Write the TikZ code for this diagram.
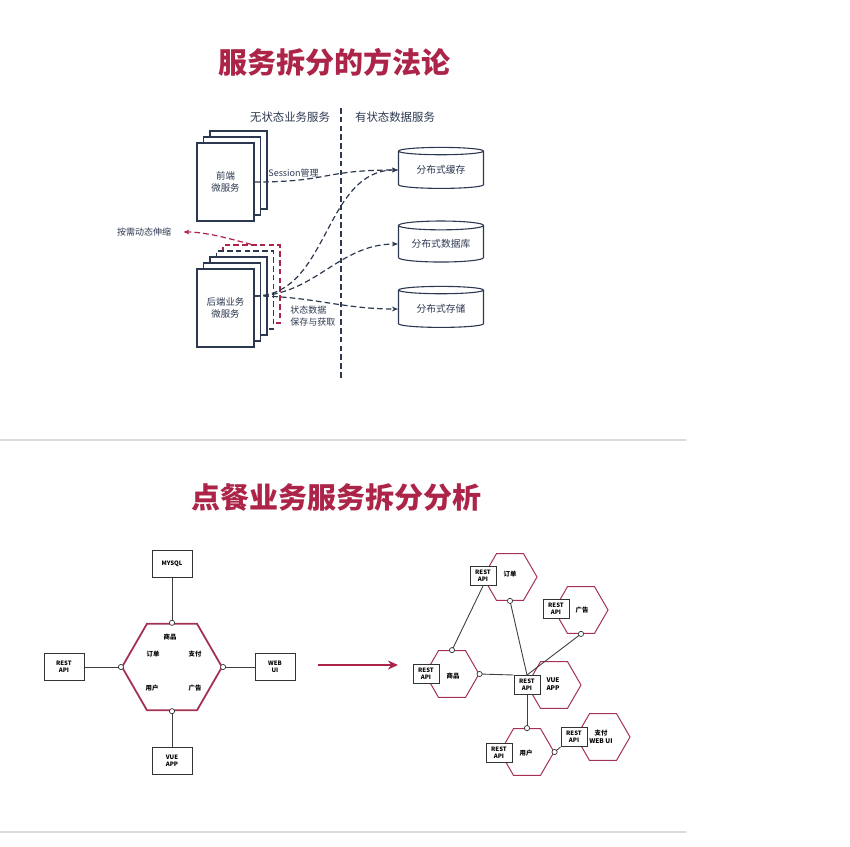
\documentclass[tikz,border=0pt]{standalone}
\usepackage{fontspec}
\setmainfont{Noto Sans CJK SC}
\usetikzlibrary{arrows.meta,positioning,shapes.geometric}
\definecolor{svred}{RGB}{172,36,72}
\definecolor{hexred}{RGB}{164,50,82}
\definecolor{svnavy}{RGB}{44,56,80}
\definecolor{svrule}{RGB}{218,218,218}

\begin{document}
\begin{tikzpicture}[
  x=0.5pt,y=-0.5pt,
  title/.style={font=\fontsize{14.5pt}{16pt}\selectfont\bfseries,text=svred},
  head/.style={font=\fontsize{5.7pt}{7pt}\selectfont,text=svnavy},
  note/.style={font=\fontsize{4.5pt}{5.8pt}\selectfont,text=svnavy,align=left,inner sep=0pt},
  page/.style={draw=svnavy,line width=0.55pt,fill=white,minimum width=28.5pt,minimum height=39pt,
    inner sep=0pt,font=\fontsize{4.7pt}{6pt}\selectfont,text=svnavy,align=center},
  datastore/.style={cylinder,shape border rotate=90,aspect=0.15,draw=svnavy,line width=0.55pt,
    minimum width=42.5pt,minimum height=20.5pt,inner sep=0pt,font=\fontsize{4.9pt}{6pt}\selectfont,text=svnavy},
  dline/.style={svnavy,line width=0.6pt,dash pattern=on 2.8pt off 1.6pt},
  rline/.style={svred,line width=0.6pt,dash pattern=on 2.8pt off 1.6pt},
  hexbig/.style={regular polygon,regular polygon sides=6,draw=hexred,line width=0.9pt,minimum size=50pt,inner sep=0pt},
  hexsm/.style={regular polygon,regular polygon sides=6,draw=hexred,line width=0.5pt,minimum size=27pt,inner sep=0pt},
  box/.style={draw=black!80,fill=white,line width=0.5pt,minimum width=20pt,minimum height=13.5pt,inner sep=0pt,
    font=\fontsize{3pt}{3.7pt}\selectfont\bfseries,align=center},
  api/.style={box,minimum width=13pt,minimum height=9.5pt},
  lbl/.style={font=\fontsize{3.2pt}{3.8pt}\selectfont\bfseries,align=center,inner sep=0pt},
  port/.style={circle,draw=black!80,fill=white,inner sep=0pt,minimum size=2.6pt,line width=0.35pt},
  wire/.style={black!75,line width=0.45pt}
]
\useasboundingbox (0,0) rectangle (850,846);

% methodology
\node[title] (t1) at (334,62) {服务拆分的方法论};
\node[head] (h1) at (290,117) {无状态业务服务};
\node[head] (h2) at (395,117) {有状态数据服务};
\draw[dline] (341,108) -- (341,378);

\foreach \i in {2,1} \node[page] at (225.5+6.5*\i,182-6*\i) {};
\node[page] (fe1) at (225.5,182) {前端\\微服务};

\node[page,draw=svred,dash pattern=on 2.8pt off 1.6pt] (be5) at (251.5,284) {};
\node[page,dash pattern=on 2.8pt off 1.6pt] (be4) at (245,290) {};
\foreach \i in {2,1} \node[page] at (225.5+6.5*\i,308-6*\i) {};
\node[page] (be1) at (225.5,308) {后端业务\\微服务};

\node[datastore] (cache) at (441,170) {分布式缓存};
\node[datastore] (db) at (441,244) {分布式数据库};
\node[datastore] (store) at (441,309) {分布式存储};

\node[note,anchor=west] (sess) at (268,173) {Session管理};
\node[note,anchor=west] (rw) at (290,316) {状态数据\\保存与获取};
\node[note] (scale) at (144,232) {按需动态伸缩};

\coordinate (bp) at ([shift={(0,-12)}]be1.east);
\draw[dline,-{Stealth[length=3pt,width=2.4pt]}] (fe1.east) .. controls (330,182) and (322,170) .. (cache.west);
\draw[dline,-{Stealth[length=3pt,width=2.4pt]}] (bp) to[out=0,in=180] (cache.west);
\draw[dline,-{Stealth[length=3pt,width=2.4pt]}] (bp) to[out=0,in=180] (db.west);
\draw[dline,-{Stealth[length=3pt,width=2.4pt]}] (bp) to[out=0,in=180] (store.west);
\draw[rline,-{Stealth[length=3pt,width=2.4pt]},shorten >=6pt] (be5.north) to[out=165,in=0] (scale.east);

\draw[svrule,line width=0.8pt] (0,440) -- (686,440);
\draw[svrule,line width=0.8pt] (0,832) -- (686,832);

% ordering analysis
\node[title] (t2) at (336,497) {点餐业务服务拆分分析};

\node[hexbig] (core) at (172,667) {};
\node[lbl] (c-sp) at (170,637) {商品};
\node[lbl] (c-od) at (153,654) {订单};
\node[lbl] (c-zf) at (195,654) {支付};
\node[lbl] (c-yh) at (152,688) {用户};
\node[lbl] (c-ad) at (195,688) {广告};

\node[box] (mysql) at (172,564) {MYSQL};
\node[box] (rest) at (64,667) {REST\\API};
\node[box] (webui) at (275,667) {WEB\\UI};
\node[box] (vue) at (172,761) {VUE\\APP};
\draw[wire] (mysql) -- (core.north);
\draw[wire] (rest) -- (core.west);
\draw[wire] (webui) -- (core.east);
\draw[wire] (vue) -- (core.south);
\foreach \a in {north,south,east,west} \node[port] at (core.\a) {};

\coordinate (go-a) at (318,665);
\coordinate (go-b) at (398,665);
\draw[svred,line width=1.1pt,-{Stealth[length=5pt,width=4.5pt]}] (go-a) -- (go-b);

\node[hexsm] (hod) at (510,577) {};
\node[hexsm] (had) at (581,610) {};
\node[hexsm] (hsp) at (452,674) {};
\node[hexsm] (hvue) at (554,685) {};
\node[hexsm] (hyh) at (527,752) {};
\node[hexsm] (hzf) at (603,737) {};

\node[api] (aod) at (483,576) {REST\\API};
\node[api] (aad) at (556,609) {REST\\API};
\node[api] (asp) at (426,674) {REST\\API};
\node[api] (avue) at (527,685) {REST\\API};
\node[api] (ayh) at (499,753) {REST\\API};
\node[api] (azf) at (574,737) {REST\\API};

\node[lbl] (l-od) at (510,574) {订单};
\node[lbl] (l-ad) at (582,610) {广告};
\node[lbl] (l-sp) at (453,676) {商品};
\node[lbl] (l-vue) at (553,684) {VUE\\APP};
\node[lbl] (l-yh) at (526,753) {用户};
\node[lbl] (l-zf) at (601,737) {支付\\WEB UI};

\draw[wire] (aod.south) -- (hsp.north);
\draw[wire] (hod.south) -- (avue.north);
\draw[wire] (had.south) -- (avue.north);
\draw[wire] (hsp.east) -- (avue.north west);
\draw[wire] (avue.south) -- (hyh.north);
\draw[wire] (azf.south west) -- (hyh.east);
\foreach \p in {hsp.north,hod.south,had.south,hsp.east,hyh.north,hyh.east} \node[port] at (\p) {};
\end{tikzpicture}
\end{document}
